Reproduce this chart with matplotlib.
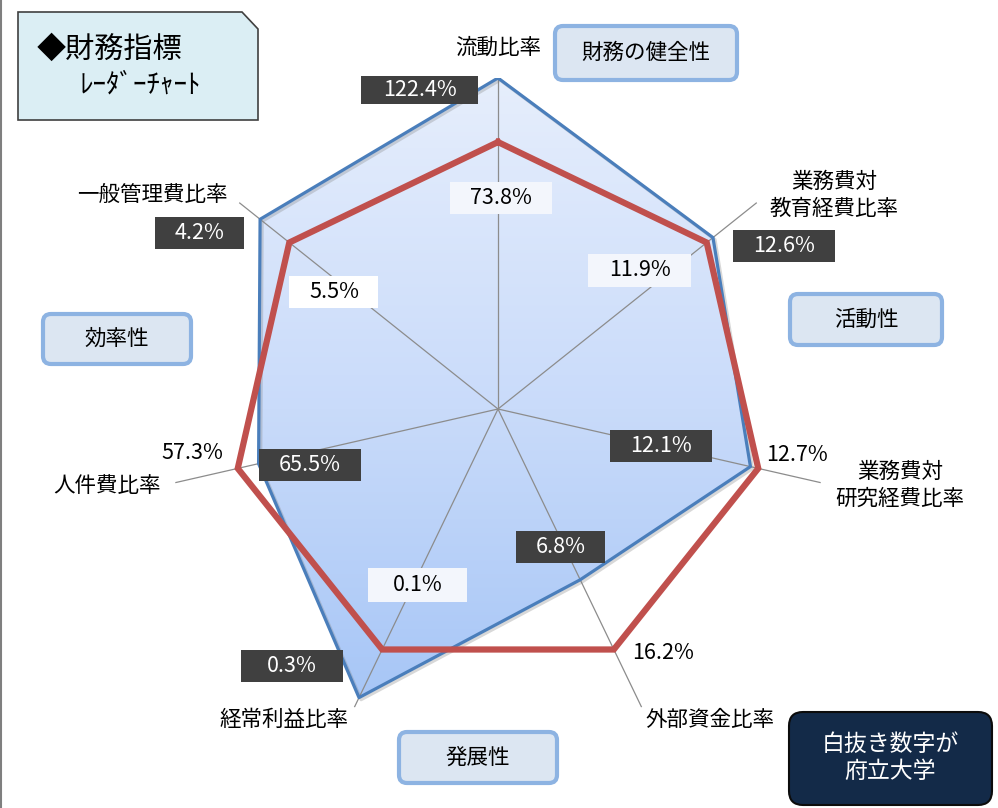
import numpy as np
import matplotlib
matplotlib.use("Agg")
import matplotlib.pyplot as plt
from matplotlib.patches import Rectangle, FancyBboxPatch, Polygon
from matplotlib.colors import LinearSegmentedColormap
import matplotlib.patheffects as pe

plt.rcParams['font.family'] = ['Noto Sans CJK JP', 'DejaVu Sans']

# === DATA ===
categories = ['流動比率', '業務費対\n教育経費比率', '業務費対\n研究経費比率', '外部資金比率',
              '経常利益比率', '人件費比率', '一般管理費比率']
# index values (average = 100)
univ_index = [124, 103, 97, 71, 120, 92, 114]
avg_index = [100, 100, 100, 100, 100, 100, 100]
univ_labels = ['122.4%', '12.6%', '12.1%', '6.8%', '0.3%', '65.5%', '4.2%']
avg_labels = ['73.8%', '11.9%', '12.7%', '16.2%', '0.1%', '57.3%', '5.5%']
groups = ['財務の健全性', '活動性', '発展性', '効率性']
rmax = 124

W, H = 998, 808
fig = plt.figure(figsize=(W / 100, H / 100), dpi=100)

# radar chart (polar axes centred on the chart area)
cx, cy, R = 498, 409, 331
ax = fig.add_axes([(cx - R) / W, 1 - (cy + R) / H, 2 * R / W, 2 * R / H], projection='polar')
ax.set_theta_zero_location('N')
ax.set_theta_direction(-1)
ax.set_axis_off()

n = len(categories)
theta = np.linspace(0, 2 * np.pi, n, endpoint=False)
tc = np.append(theta, theta[0])
univ_c = np.append(univ_index, univ_index[0])
avg_c = np.append(avg_index, avg_index[0])

# gradient fill of the university polygon
poly = ax.fill(tc, univ_c, facecolor='none', edgecolor='none')[0]
cmap = LinearSegmentedColormap.from_list('g', ['#e6eefc', '#c9dbfa', '#a2c3f6'])
grad = np.linspace(0, 1, 256).reshape(-1, 1)
im = ax.imshow(grad, cmap=cmap, extent=[0, 1, 0, 1], transform=ax.transAxes,
               aspect='auto', origin='upper', zorder=1)
im.set_clip_path(poly)

for t in theta:
    ax.plot([t, t], [0, rmax], color='#8c8c8c', lw=0.9, zorder=2)

ax.plot(tc, univ_c, color='#4a7ebb', lw=2.3, zorder=3,
        path_effects=[pe.SimpleLineShadow(offset=(1.5, -1.5), shadow_color='#808080', alpha=0.3),
                      pe.Normal()])
ax.plot(tc, avg_c, color='#c0504d', lw=4.5, zorder=4, solid_joinstyle='miter')
ax.set_xlim(0, 2 * np.pi)
ax.set_ylim(0, rmax)

# overlay in pixel coordinates for labels and boxes
ov = fig.add_axes([0, 0, 1, 1], facecolor='none')
ov.set_xlim(0, W)
ov.set_ylim(H, 0)
ov.axis('off')
ov.axvline(1.5, color='#7f7f7f', lw=1.5)

fs = 15.5

def label_box(x, y, w, h, text, fc, color):
    if fc is not None:
        ov.add_patch(Rectangle((x - w / 2, y - h / 2), w, h, facecolor=fc, edgecolor='none', zorder=3))
    ov.text(x, y, text, color=color, ha='center', va='center', fontsize=fs, zorder=4)

# university values (white on dark boxes)
univ_pos = [(420, 90, 117, 28), (784, 246, 102, 32), (661, 446, 102, 32), (561, 547, 89, 32),
            (292, 666, 102, 32), (310, 465, 102, 32), (200, 233, 89, 32)]
for (x, y, w, h), s in zip(univ_pos, univ_labels):
    label_box(x, y, w, h, s, '#404040', 'white')

# average values (black)
avg_pos = [(501, 198, 102, 32), (640, 270, 103, 33), (797, 455, 0, 0), (663, 653, 0, 0),
           (418, 585, 99, 34), (192, 453, 0, 0), (334, 292, 89, 32)]
avg_fc = ['#f3f6fc', '#f3f6fc', None, None, '#f3f6fc', None, 'white']
for (x, y, w, h), s, fc in zip(avg_pos, avg_labels, avg_fc):
    label_box(x, y, w, h, s, fc, 'black')

# category labels
cat_pos = [(498, 48), (834, 195), (900, 485), (710, 720), (284, 720), (107, 486), (152, 195)]
for (x, y), s in zip(cat_pos, categories):
    ov.text(x, y, s, ha='center', va='center', fontsize=fs, linespacing=1.3, color='black')

# group boxes
group_pos = [(555, 26, 182, 54), (790, 294, 152, 51), (399, 732, 158, 51), (43, 314, 148, 50)]
for (x, y, w, h), s in zip(group_pos, groups):
    ov.add_patch(FancyBboxPatch((x, y), w, h, boxstyle='round,pad=0,rounding_size=8',
                                facecolor='#dce6f2', edgecolor='#8db3e2', lw=3))
    ov.text(x + w / 2, y + h / 2, s, ha='center', va='center', fontsize=fs)

# title box with cut corner
ov.add_patch(Polygon([(18, 12), (242, 12), (258, 29), (258, 120), (18, 120)], closed=True,
                     facecolor='#dbeef4', edgecolor='#404040', lw=1.2))
ov.text(37, 50, '◆財務指標', ha='left', va='center', fontsize=21)
ov.text(80, 85, 'ﾚｰﾀﾞｰﾁｬｰﾄ', ha='left', va='center', fontsize=19.5)

# note box
ov.add_patch(FancyBboxPatch((789, 712), 203, 93, boxstyle='round,pad=0,rounding_size=14',
                            facecolor='#132a48', edgecolor='#0c0c0c', lw=1.5))
ov.text(890, 758, '白抜き数字が\n府立大学', ha='center', va='center', fontsize=16.5,
        color='white', linespacing=1.25)

fig.savefig('out.png', dpi=100)
